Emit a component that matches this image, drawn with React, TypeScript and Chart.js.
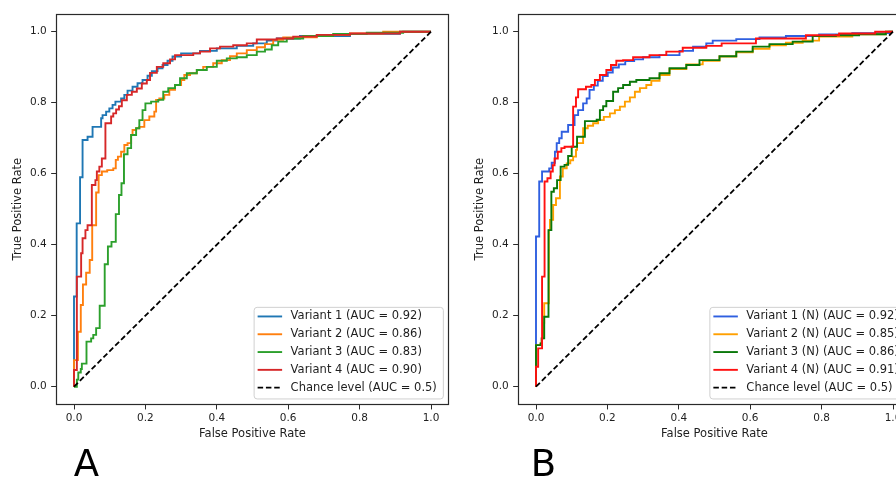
import React, { useEffect, useRef } from "react";
import { Chart, registerables } from "chart.js";

Chart.register(...registerables);

const FONT = '"DejaVu Sans", "Liberation Sans", sans-serif';
const TICKS = [0, 0.2, 0.4, 0.6, 0.8, 1.0];
const AXIS_MIN = -0.05;
const AXIS_MAX = 1.05;
const X_TITLE = "False Positive Rate";
const Y_TITLE = "True Positive Rate";
const CHANCE_LABEL = "Chance level (AUC = 0.5)";
const CHANCE_LINE = [[0, 0], [1, 1]];

const A_LABELS = [
  "Variant 1 (AUC = 0.92)",
  "Variant 2 (AUC = 0.86)",
  "Variant 3 (AUC = 0.83)",
  "Variant 4 (AUC = 0.90)",
];
const B_LABELS = [
  "Variant 1 (N) (AUC = 0.92)",
  "Variant 2 (N) (AUC = 0.85)",
  "Variant 3 (N) (AUC = 0.86)",
  "Variant 4 (N) (AUC = 0.91)",
];
const A_COLORS = ["#1f77b4", "#ff7f0e", "#2ca02c", "#d62728"];
const B_COLORS = ["#2f5fe0", "#ffa000", "#0a780a", "#ff1010"];

// [fpr, tpr] at each vertical step of the ROC curve
const A_VARIANT1 = [[0,0],[0,0.254],[0.0075,0.28],[0.0075,0.46],[0.017,0.59],[0.024,0.695],[0.038,0.704],[0.052,0.732],[0.076,0.756],[0.080,0.765],[0.090,0.775],[0.099,0.784],[0.108,0.794],[0.116,0.803],[0.132,0.812],[0.141,0.822],[0.150,0.834],[0.164,0.845],[0.178,0.855],[0.192,0.864],[0.206,0.876],[0.218,0.889],[0.234,0.897],[0.248,0.906],[0.262,0.918],[0.276,0.930],[0.300,0.939],[0.353,0.946],[0.400,0.953],[0.456,0.960],[0.502,0.967],[0.540,0.975],[0.568,0.981],[0.633,0.988],[0.773,0.994],[0.913,1.0],[1,1]];
const A_VARIANT2 = [[0,0],[0,0.075],[0.011,0.155],[0.019,0.23],[0.025,0.288],[0.034,0.321],[0.044,0.357],[0.051,0.455],[0.062,0.547],[0.069,0.596],[0.078,0.606],[0.093,0.610],[0.110,0.615],[0.117,0.639],[0.123,0.648],[0.132,0.662],[0.141,0.681],[0.150,0.686],[0.160,0.709],[0.164,0.723],[0.174,0.728],[0.183,0.732],[0.197,0.751],[0.211,0.761],[0.225,0.775],[0.230,0.808],[0.239,0.812],[0.253,0.822],[0.267,0.836],[0.283,0.850],[0.300,0.864],[0.309,0.878],[0.325,0.883],[0.344,0.892],[0.362,0.901],[0.390,0.911],[0.414,0.920],[0.437,0.931],[0.456,0.939],[0.484,0.948],[0.512,0.956],[0.535,0.965],[0.558,0.977],[0.586,0.984],[0.680,0.991],[0.773,0.995],[0.866,1.0],[1,1]];
const A_VARIANT3 = [[0,0],[0.008,0.02],[0.012,0.04],[0.019,0.05],[0.022,0.065],[0.035,0.127],[0.048,0.136],[0.054,0.146],[0.062,0.165],[0.072,0.228],[0.086,0.345],[0.095,0.395],[0.105,0.408],[0.117,0.486],[0.126,0.54],[0.133,0.573],[0.140,0.655],[0.150,0.672],[0.160,0.709],[0.174,0.728],[0.183,0.751],[0.192,0.779],[0.200,0.798],[0.216,0.803],[0.236,0.808],[0.250,0.831],[0.264,0.841],[0.283,0.850],[0.297,0.869],[0.316,0.883],[0.344,0.892],[0.372,0.901],[0.400,0.918],[0.428,0.925],[0.456,0.928],[0.484,0.934],[0.512,0.944],[0.535,0.950],[0.554,0.962],[0.572,0.972],[0.596,0.981],[0.642,0.988],[0.726,0.994],[0.820,0.997],[0.922,1.0],[1,1]];
const A_VARIANT4 = [[0,0],[0,0.047],[0.008,0.31],[0.020,0.376],[0.024,0.418],[0.032,0.441],[0.038,0.455],[0.050,0.568],[0.060,0.582],[0.064,0.606],[0.071,0.620],[0.078,0.643],[0.088,0.742],[0.104,0.761],[0.110,0.770],[0.118,0.781],[0.126,0.790],[0.134,0.807],[0.148,0.822],[0.162,0.831],[0.176,0.840],[0.190,0.854],[0.204,0.864],[0.213,0.884],[0.232,0.901],[0.250,0.911],[0.269,0.922],[0.283,0.934],[0.334,0.939],[0.353,0.944],[0.381,0.953],[0.409,0.958],[0.446,0.962],[0.484,0.967],[0.512,0.978],[0.568,0.981],[0.614,0.986],[0.680,0.991],[0.773,0.995],[0.913,1.0],[1,1]];

const B_VARIANT1 = [[0,0],[0,0.423],[0.009,0.578],[0.017,0.606],[0.037,0.615],[0.044,0.631],[0.053,0.662],[0.058,0.686],[0.065,0.700],[0.072,0.718],[0.090,0.737],[0.108,0.765],[0.118,0.779],[0.132,0.798],[0.142,0.812],[0.150,0.836],[0.162,0.848],[0.173,0.862],[0.187,0.875],[0.201,0.885],[0.215,0.899],[0.232,0.908],[0.250,0.917],[0.275,0.922],[0.300,0.928],[0.346,0.934],[0.402,0.946],[0.440,0.958],[0.477,0.967],[0.495,0.975],[0.561,0.979],[0.626,0.984],[0.700,0.988],[0.793,0.992],[0.886,0.996],[0.990,1.0],[1,1]];
const B_VARIANT2 = [[0,0],[0,0.117],[0.013,0.122],[0.016,0.136],[0.020,0.18],[0.023,0.235],[0.036,0.441],[0.039,0.47],[0.048,0.512],[0.056,0.531],[0.067,0.592],[0.075,0.615],[0.086,0.629],[0.096,0.638],[0.104,0.648],[0.112,0.667],[0.115,0.686],[0.132,0.728],[0.145,0.735],[0.160,0.742],[0.174,0.751],[0.190,0.760],[0.207,0.770],[0.221,0.779],[0.235,0.789],[0.249,0.803],[0.263,0.815],[0.277,0.831],[0.291,0.841],[0.309,0.850],[0.323,0.862],[0.346,0.878],[0.374,0.895],[0.421,0.908],[0.467,0.918],[0.514,0.930],[0.561,0.942],[0.607,0.952],[0.654,0.962],[0.700,0.969],[0.747,0.975],[0.793,0.986],[0.886,0.993],[0.980,1.0],[1,1]];
const B_VARIANT3 = [[0,0],[0,0.117],[0.013,0.122],[0.016,0.136],[0.023,0.197],[0.035,0.441],[0.043,0.549],[0.050,0.559],[0.059,0.582],[0.069,0.620],[0.080,0.625],[0.090,0.650],[0.100,0.676],[0.115,0.704],[0.137,0.748],[0.170,0.752],[0.179,0.779],[0.188,0.790],[0.197,0.805],[0.216,0.831],[0.230,0.841],[0.244,0.850],[0.263,0.859],[0.281,0.864],[0.318,0.869],[0.346,0.883],[0.374,0.897],[0.421,0.906],[0.458,0.920],[0.514,0.931],[0.561,0.944],[0.607,0.958],[0.654,0.965],[0.719,0.972],[0.775,0.988],[0.840,0.990],[0.905,0.993],[0.980,1.0],[1,1]];
const B_VARIANT4 = [[0,0],[0,0.056],[0.006,0.108],[0.017,0.31],[0.024,0.578],[0.032,0.587],[0.041,0.606],[0.047,0.624],[0.052,0.643],[0.061,0.662],[0.071,0.672],[0.080,0.676],[0.104,0.789],[0.112,0.815],[0.118,0.838],[0.140,0.845],[0.155,0.850],[0.165,0.864],[0.179,0.878],[0.197,0.892],[0.210,0.906],[0.225,0.918],[0.244,0.920],[0.272,0.928],[0.318,0.934],[0.365,0.944],[0.411,0.955],[0.477,0.960],[0.520,0.967],[0.616,0.981],[0.756,0.990],[0.849,0.995],[0.950,1.0],[1,1]];

const A_SERIES = [A_VARIANT1, A_VARIANT2, A_VARIANT3, A_VARIANT4];
const B_SERIES = [B_VARIANT1, B_VARIANT2, B_VARIANT3, B_VARIANT4];

const CANVAS_W = 458;
const CANVAS_H = 478;
const TEXT_COLOR = "#1e1e1e";
const SPINE_COLOR = "#2a2a2a";

const framePlugin = {
  id: "frameAndLegend",
  afterDraw(chart: any) {
    const ctx = chart.ctx;
    const { left, right, top, bottom } = chart.chartArea;
    ctx.save();
    // spines
    ctx.strokeStyle = SPINE_COLOR;
    ctx.lineWidth = 1.2;
    ctx.strokeRect(Math.round(left) + 0.5, Math.round(top) + 0.5, Math.round(right) - Math.round(left) - 1, Math.round(bottom) - Math.round(top));

    // legend
    ctx.font = `11.5px ${FONT}`;
    const items = chart.data.datasets.map((d: any) => ({
      label: d.label,
      color: d.borderColor,
      dash: d.borderDash || [],
      width: d.borderWidth,
    }));
    const maxW = Math.max(...items.map((it: any) => ctx.measureText(it.label).width));
    const boxW = 37 + maxW + 6;
    const boxH = 91.6;
    const x0 = right - 6 - boxW;
    const y0 = bottom - 6 - boxH;
    ctx.beginPath();
    (ctx as any).roundRect(x0 + 0.5, y0 + 0.5, boxW, boxH, 3);
    ctx.fillStyle = "rgba(255,255,255,0.85)";
    ctx.fill();
    ctx.strokeStyle = "#d0d0d0";
    ctx.lineWidth = 1;
    ctx.stroke();
    items.forEach((it: any, i: number) => {
      const cy = y0 + 9.6 + i * 17.8;
      ctx.beginPath();
      ctx.setLineDash(it.dash);
      ctx.strokeStyle = it.color;
      ctx.lineWidth = it.width;
      ctx.moveTo(x0 + 4, cy);
      ctx.lineTo(x0 + 28.5, cy);
      ctx.stroke();
      ctx.setLineDash([]);
      ctx.fillStyle = TEXT_COLOR;
      ctx.textBaseline = "middle";
      ctx.textAlign = "left";
      ctx.fillText(it.label, x0 + 37, cy);
    });
    ctx.restore();
  },
};

function RocPanel({ series, labels, colors, left }: { series: number[][][]; labels: string[]; colors: string[]; left: number }) {
  const ref = useRef<HTMLCanvasElement | null>(null);
  useEffect(() => {
    if (!ref.current) return;
    const datasets: any[] = series.map((pts, i) => ({
      label: labels[i],
      data: pts.map((p) => ({ x: p[0], y: p[1] })),
      showLine: true,
      stepped: true,
      borderColor: colors[i],
      backgroundColor: colors[i],
      borderWidth: 1.9,
      pointRadius: 0,
      fill: false,
      order: 4 - i,
    }));
    datasets.push({
      label: CHANCE_LABEL,
      data: CHANCE_LINE.map((p) => ({ x: p[0], y: p[1] })),
      showLine: true,
      borderColor: "#000000",
      backgroundColor: "#000000",
      borderDash: [5.5, 2.8],
      borderWidth: 1.8,
      pointRadius: 0,
      fill: false,
      order: 0,
    });
    const tickFont = { family: FONT, size: 10.5 };
    const titleFont = { family: FONT, size: 11.5 };
    const chart = new Chart(ref.current, {
      type: "scatter",
      data: { datasets },
      plugins: [framePlugin],
      options: {
        animation: false,
        responsive: false,
        maintainAspectRatio: false,
        layout: { padding: { left: 0, top: 13.95, right: CANVAS_W - 448.85, bottom: CANVAS_H - 404.45 - 50 } },
        plugins: { legend: { display: false }, tooltip: { enabled: false } },
        scales: {
          x: {
            type: "linear",
            min: AXIS_MIN,
            max: AXIS_MAX,
            afterBuildTicks: (s: any) => {
              s.ticks = TICKS.map((v) => ({ value: v }));
            },
            afterFit: (s: any) => {
              s.height = 50;
            },
            grid: { drawOnChartArea: false, drawTicks: true, tickLength: 5, color: SPINE_COLOR, lineWidth: 1 },
            border: { display: false },
            ticks: {
              font: tickFont,
              color: TEXT_COLOR,
              padding: 2.3,
              maxRotation: 0,
              autoSkip: false,
              callback: (v: any) => Number(v).toFixed(1),
            },
            title: { display: true, text: X_TITLE, font: titleFont, color: TEXT_COLOR, padding: { top: 0, bottom: 14 } },
          },
          y: {
            type: "linear",
            min: AXIS_MIN,
            max: AXIS_MAX,
            afterBuildTicks: (s: any) => {
              s.ticks = TICKS.map((v) => ({ value: v }));
            },
            afterFit: (s: any) => {
              s.width = 56.15;
            },
            grid: { drawOnChartArea: false, drawTicks: true, tickLength: 5, color: SPINE_COLOR, lineWidth: 1 },
            border: { display: false },
            ticks: {
              font: tickFont,
              color: TEXT_COLOR,
              padding: 4.4,
              autoSkip: false,
              callback: (v: any) => Number(v).toFixed(1),
            },
            title: { display: true, text: Y_TITLE, font: titleFont, color: TEXT_COLOR, padding: { top: 10.8, bottom: 0 } },
          },
        },
      } as any,
    });
    return () => chart.destroy();
  }, [series, labels, colors]);
  return (
    <canvas
      ref={ref}
      width={CANVAS_W}
      height={CANVAS_H}
      style={{ position: "absolute", left, top: 0, width: CANVAS_W, height: CANVAS_H }}
    />
  );
}

const letterStyle: React.CSSProperties = {
  position: "absolute",
  fontFamily: FONT,
  fontSize: 37,
  lineHeight: "37px",
  color: "#000",
  top: 445.4,
};

export default function App() {
  useEffect(() => {
    document.body.style.margin = "0";
  }, []);
  return (
    <div style={{ position: "fixed", left: 0, top: 0, width: 896, height: 478, overflow: "hidden", background: "#fff" }}>
      <RocPanel series={A_SERIES} labels={A_LABELS} colors={A_COLORS} left={0} />
      <RocPanel series={B_SERIES} labels={B_LABELS} colors={B_COLORS} left={462} />
      <div style={{ ...letterStyle, left: 73.7 }}>A</div>
      <div style={{ ...letterStyle, left: 530.7 }}>B</div>
    </div>
  );
}
